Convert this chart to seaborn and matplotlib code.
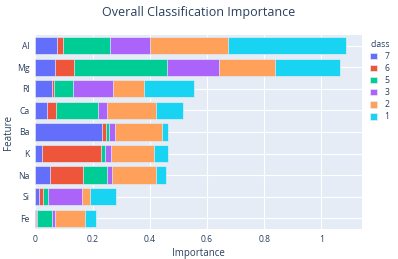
import numpy as np
import pandas as pd
import matplotlib.pyplot as plt
import seaborn as sns

features = ['Al', 'Mg', 'RI', 'Ca', 'Ba', 'K', 'Na', 'Si', 'Fe']
classes = ['7', '6', '5', '3', '2', '1']

# importance per class, one list per class, in the feature order above
imp_7 = [0.075, 0.069, 0.059, 0.041, 0.233, 0.024, 0.052, 0.012, 0.002]
imp_6 = [0.023, 0.066, 0.005, 0.031, 0.014, 0.206, 0.116, 0.014, 0.005]
imp_5 = [0.164, 0.327, 0.068, 0.148, 0.011, 0.015, 0.084, 0.019, 0.050]
imp_3 = [0.140, 0.181, 0.140, 0.031, 0.021, 0.020, 0.017, 0.118, 0.013]
imp_2 = [0.273, 0.194, 0.108, 0.172, 0.164, 0.149, 0.154, 0.028, 0.105]
imp_1 = [0.410, 0.229, 0.174, 0.094, 0.022, 0.051, 0.033, 0.090, 0.038]

colors = {'7': '#636efa', '6': '#EF553B', '5': '#00cc96',
          '3': '#ab63fa', '2': '#FFA15A', '1': '#19d3f3'}

df = pd.DataFrame({'Feature': features, '7': imp_7, '6': imp_6, '5': imp_5,
                   '3': imp_3, '2': imp_2, '1': imp_1})
cum = df[classes].cumsum(axis=1)
cum['Feature'] = df['Feature']

font_color = '#2a3f5f'
bg = '#E5ECF6'

sns.set_style('darkgrid', {'axes.facecolor': bg, 'grid.color': 'white'})
plt.rcParams['font.family'] = ['Open Sans', 'DejaVu Sans']
plt.rcParams['text.color'] = font_color
plt.rcParams['axes.labelcolor'] = font_color
plt.rcParams['xtick.color'] = font_color
plt.rcParams['ytick.color'] = font_color

fig = plt.figure(figsize=(3.98, 2.59), dpi=100)
ax = fig.add_axes([0.0887, 0.1158, 0.8208, 0.7492])

# stacked bars: draw cumulative totals from the outermost class inwards
for c in reversed(classes):
    sns.barplot(data=cum, x=c, y='Feature', order=features, orient='h',
                color=colors[c], width=0.8, edgecolor=bg, linewidth=0.5,
                saturation=1, ax=ax, label=c, zorder=3)

ax.set_xlim(0, 1.142)
ax.set_xticks([0, 0.2, 0.4, 0.6, 0.8, 1.0])
ax.set_xticklabels(['0', '0.2', '0.4', '0.6', '0.8', '1'])
ax.grid(True, color='white', linewidth=0.8)
ax.axvline(0, color='white', linewidth=1.5, zorder=2)
ax.tick_params(axis='both', length=0, labelsize=6.2, pad=4)
ax.set_xlabel('Importance', fontsize=7, labelpad=3)
ax.set_ylabel('Feature', fontsize=7, labelpad=2)
for s in ax.spines.values():
    s.set_visible(False)

fig.suptitle('Overall Classification Importance', x=0.5, y=0.975,
             fontsize=9, color=font_color)

handles, labels = ax.get_legend_handles_labels()
order = [labels.index(c) for c in classes]
leg = ax.legend([handles[i] for i in order], classes, title='class',
                loc='upper left', bbox_to_anchor=(1.01, 1.0), frameon=False,
                fontsize=6.2, title_fontsize=6.2, handlelength=0.8,
                handleheight=0.8, labelspacing=0.35, alignment='left',
                borderaxespad=0.2)
for t in leg.get_texts():
    t.set_color(font_color)
leg.get_title().set_color(font_color)

fig.savefig('out.png', dpi=100)
